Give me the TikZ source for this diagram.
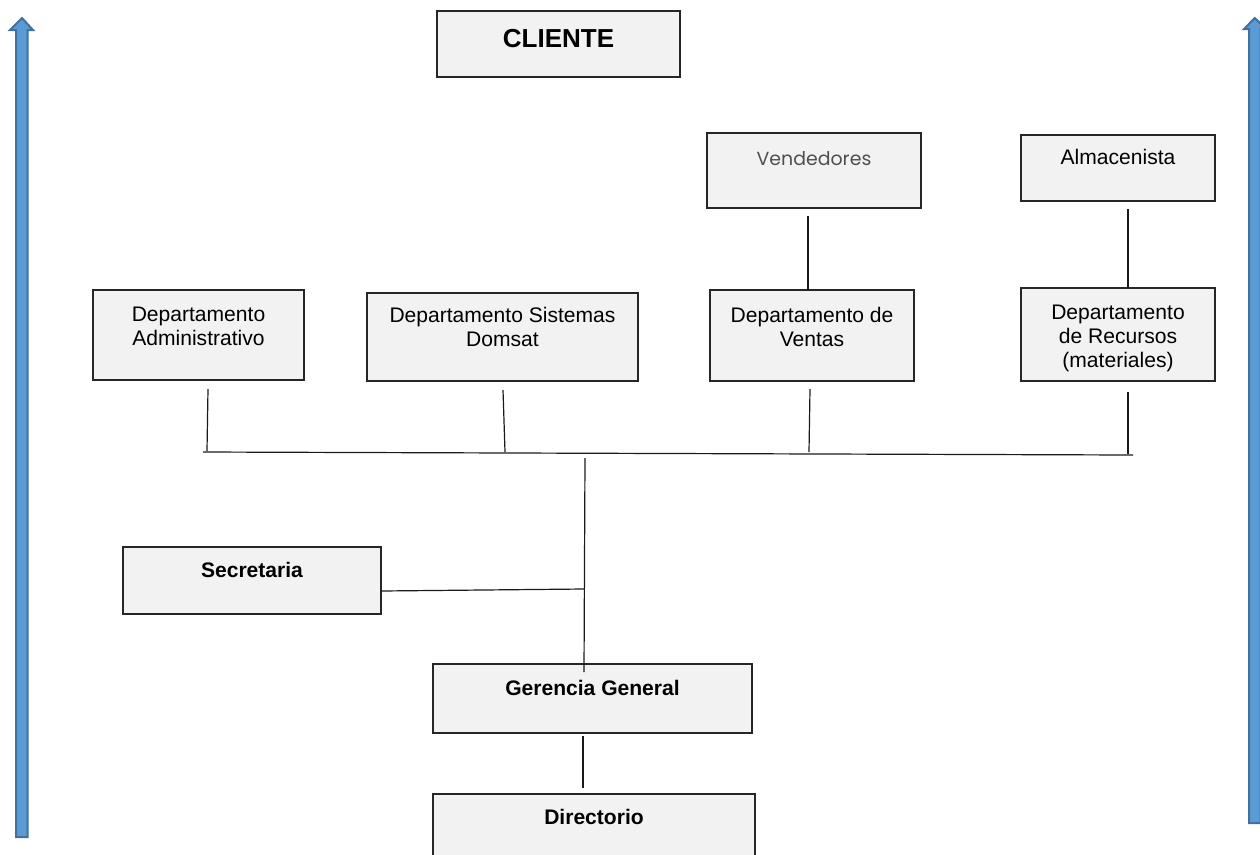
\documentclass[tikz,border=0pt]{standalone}
\usepackage{fontspec}
\setmainfont{Liberation Sans}
\newfontfamily\thinfont{Poppins}
\usetikzlibrary{calc}
\definecolor{boxfill}{HTML}{F2F2F2}
\definecolor{boxline}{HTML}{262626}
\definecolor{linkline}{HTML}{1A1A1A}
\definecolor{arrowfill}{HTML}{5B9BD5}
\definecolor{arrowline}{HTML}{41719C}
\definecolor{softtext}{HTML}{505050}
\tikzset{
  box/.style={draw=boxline, fill=boxfill, line width=0.9pt, inner sep=0pt, outer sep=0pt},
  lbl/.style={inner sep=0pt, align=center, font=\fontsize{15.8}{17.8}\selectfont},
  blbl/.style={lbl, font=\fontsize{15.8}{17.8}\selectfont\bfseries},
  link/.style={draw=linkline, line width=0.9pt},
  bigarrow/.style={draw=arrowline, fill=arrowfill, line width=1.5pt, line join=miter}
}
% box from its top-left corner (x1,y1) to its bottom-right corner (x2,y2), in px
\newcommand\orgbox[5]{%
  \node[box, anchor=north west,
        minimum width={(#4-#2)*0.75pt}, minimum height={(#5-#3)*0.75pt}] (#1) at (#2,#3) {};}
\begin{document}
\begin{tikzpicture}[x=0.75pt, y=-0.75pt]
\useasboundingbox (0,0) rectangle (1260,854);
\clip (0,0) rectangle (1260,854);

% side arrows
\draw[bigarrow] (16,837) -- (16,30) -- (10,30) -- (22,18) -- (33,30) -- (27.5,30) -- (27.5,837) -- cycle;
\draw[bigarrow] (1249,823) -- (1249,29) -- (1244,29) -- (1254.8,18) -- (1266,29) -- (1260.5,29) -- (1260.5,823) -- cycle;

% boxes
\orgbox{cli}{437}{11}{680}{77}
\orgbox{ven}{707}{133}{921}{208}
\orgbox{alm}{1021}{135}{1215}{201}
\orgbox{adm}{93}{290}{304}{380}
\orgbox{sis}{367}{293}{638}{381}
\orgbox{vta}{710}{290}{914}{381}
\orgbox{rec}{1021}{288}{1215}{381}
\orgbox{sec}{123}{547}{381}{614}
\orgbox{ger}{433}{664}{752}{733}
\orgbox{dir}{433}{794}{755}{870}

% labels (placed on the baseline of their last line)
\node[blbl, anchor=base, font=\fontsize{19.5}{22}\selectfont\bfseries] (cli-t) at (cli.north |- 0,47) {CLIENTE};
\node[lbl, anchor=base, font=\fontsize{14.2}{17}\selectfont\thinfont, text=softtext] (ven-t) at (ven.north |- 0,165) {Vendedores};
\node[lbl, anchor=base] (alm-t) at (alm.north |- 0,164) {Almacenista};
\node[lbl, anchor=base] (adm-t) at (adm.north |- 0,345) {Departamento\\Administrativo};
\node[lbl, anchor=base] (sis-t) at (sis.north |- 0,346) {Departamento Sistemas\\Domsat};
\node[lbl, anchor=base] (vta-t) at (vta.north |- 0,346) {Departamento de\\Ventas};
\node[lbl, anchor=base] (rec-t) at (rec.north |- 0,367) {Departamento\\de Recursos\\(materiales)};
\node[blbl, anchor=base] (sec-t) at (sec.north |- 0,577) {Secretaria};
\node[blbl, anchor=base] (ger-t) at (ger.north |- 0,695) {Gerencia General};
\node[blbl, anchor=base] (dir-t) at (dir.north |- 0,824) {Directorio};

% connector end points
\coordinate (busL) at (203,452);
\coordinate (busR) at (1133,455);
\coordinate (admA) at (208,389);  \coordinate (admB) at (207,451);
\coordinate (sisA) at (503,390);  \coordinate (sisB) at (505,452);
\coordinate (vtaA) at (810,389);  \coordinate (vtaB) at (809,452);
\coordinate (recA) at (1128,392); \coordinate (recB) at (1128,454);
\coordinate (venA) at (808,216);
\coordinate (almA) at (1128,209);
\coordinate (trunkTop) at (585,458);
\coordinate (trunkBot) at (584,672);
\coordinate (secJ) at (584,589);
\coordinate (gerA) at (583,736);
\coordinate (dirA) at (583,788);

% connectors
\draw[link] (busL) -- (busR);
\draw[link] (admA) -- (admB);
\draw[link] (sisA) -- (sisB);
\draw[link] (vtaA) -- (vtaB);
\draw[link] (recA) -- (recB);
\draw[link] (venA) -- (venA |- vta.north);
\draw[link] (almA) -- (almA |- rec.north);
\draw[link] (trunkTop) -- (trunkBot);
\draw[link] (sec.east |- 0,591) -- (secJ);
\draw[link] (gerA) -- (dirA);
\end{tikzpicture}
\end{document}
